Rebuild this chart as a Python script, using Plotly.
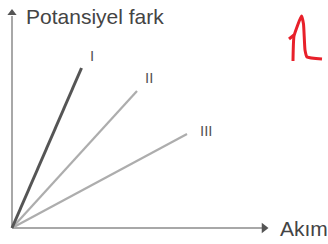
import plotly.graph_objects as go

# Data (current vs potential difference) for the three conductors
akim_I = [0, 69.5]
potansiyel_I = [0, 160]
akim_II = [0, 125]
potansiyel_II = [0, 137]
akim_III = [0, 175]
potansiyel_III = [0, 94]

line_labels = ["I", "II", "III"]
label_x = [79.5, 137, 194]
label_y = [173, 151, 98]

# axis extents
x_axis = [0, 250]
y_axis = [0, 212]

# red handwritten mark (in plot coords)
mark_x1 = [281, 282, 289.5, 291.5, 293, 295, 310]
mark_y1 = [167, 192, 212, 204, 178, 171, 169]
mark_x2 = [277, 282]
mark_y2 = [189, 193]

fig = go.Figure()

axis_col = "#a8a8a8"
fig.add_trace(go.Scatter(x=x_axis, y=[0, 0], mode="lines",
                         line=dict(color=axis_col, width=2)))
fig.add_trace(go.Scatter(x=[0, 0], y=y_axis, mode="lines",
                         line=dict(color=axis_col, width=2)))
fig.add_trace(go.Scatter(x=[252], y=[0], mode="markers",
                         marker=dict(symbol="triangle-right", size=9, color="#555")))
fig.add_trace(go.Scatter(x=[0], y=[215], mode="markers",
                         marker=dict(symbol="triangle-up", size=8, color="#555")))

fig.add_trace(go.Scatter(x=akim_III, y=potansiyel_III, mode="lines",
                         line=dict(color="#adadad", width=2.2)))
fig.add_trace(go.Scatter(x=akim_II, y=potansiyel_II, mode="lines",
                         line=dict(color="#adadad", width=2.2)))
fig.add_trace(go.Scatter(x=akim_I, y=potansiyel_I, mode="lines",
                         line=dict(color="#555555", width=3)))

fig.add_trace(go.Scatter(x=mark_x1, y=mark_y1, mode="lines",
                         line=dict(color="#e8202a", width=3, shape="spline", smoothing=0.4)))
fig.add_trace(go.Scatter(x=mark_x2, y=mark_y2, mode="lines",
                         line=dict(color="#e8202a", width=3)))

for t, lx, ly in zip(line_labels, label_x, label_y):
    fig.add_annotation(x=lx, y=ly, text=t, showarrow=False,
                       font=dict(family="Liberation Sans", size=15, color="#555"))

fig.add_annotation(x=12, y=212, text="Potansiyel fark", showarrow=False,
                   xanchor="left", yanchor="middle",
                   font=dict(family="Liberation Sans", size=21, color="#444"))
fig.add_annotation(x=266, y=0, text="Akım", showarrow=False,
                   xanchor="left", yanchor="middle",
                   font=dict(family="Liberation Sans", size=21, color="#444"))

fig.update_layout(
    width=328, height=244,
    margin=dict(l=0, r=0, t=0, b=0),
    paper_bgcolor="white", plot_bgcolor="white",
    showlegend=False,
    xaxis=dict(range=[-12, 316], visible=False, fixedrange=True),
    yaxis=dict(range=[-16, 228], visible=False, fixedrange=True),
)

fig.write_html("out.html", config={"displayModeBar": False},
               post_script="document.body.style.margin='0';")
